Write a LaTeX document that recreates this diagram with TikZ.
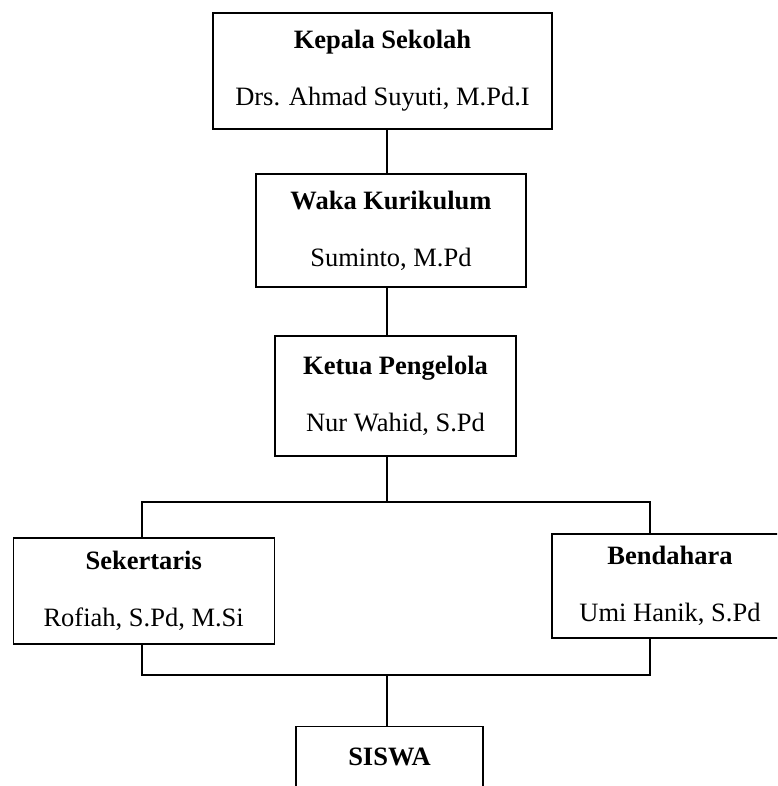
\documentclass[tikz,border=0pt]{standalone}
\usepackage{fontspec}
\setmainfont{Liberation Serif}
\usepackage{tikz}
\usetikzlibrary{positioning}

\begin{document}
\begin{tikzpicture}[x=1pt, y=-1pt, line width=1.3pt,
	box/.style={draw, rectangle, align=center, inner sep=0pt,
		font=\fontsize{26.5}{32}\selectfont}]

	\useasboundingbox (0,0) rectangle (777,786);
	\clip (0,0) rectangle (777,786);

	\node[box, minimum width=339, minimum height=116] (kepala) at (382.5,71)
		{\textbf{Kepala Sekolah}\\[25pt]Drs. Ahmad Suyuti, M.Pd.I};
	\node[box, minimum width=270, minimum height=113] (waka) at (391,230.5)
		{\textbf{Waka Kurikulum}\\[25pt]Suminto, M.Pd};
	\node[box, minimum width=241, minimum height=120] (ketua) at (395.5,396)
		{\textbf{Ketua Pengelola}\\[25pt]Nur Wahid, S.Pd};
	\node[box, minimum width=261, minimum height=106] (sekertaris) at (143.7,591)
		{\textbf{Sekertaris}\\[25pt]Rofiah, S.Pd, M.Si};
	\node[box, minimum width=236, minimum height=104] (bendahara) at (670,586)
		{\textbf{Bendahara}\\[25pt]Umi Hanik, S.Pd};
	\node[box, minimum width=187, minimum height=118, anchor=north] (siswa) at (389.5,726)
		{\textbf{SISWA}\\[25pt]\phantom{Siswa}};

	\coordinate (spine) at (387,0);
	\coordinate (busatas) at (387,502);
	\coordinate (busbawah) at (387,675);
	\coordinate (kiri) at (142,502);
	\coordinate (kanan) at (650,502);

	\draw (kepala.south -| spine) -- (waka.north -| spine);
	\draw (waka.south -| spine) -- (ketua.north -| spine);
	\draw (ketua.south -| spine) -- (busatas);
	\draw (kiri |- sekertaris.north) -- (kiri) -- (kanan) -- (kanan |- bendahara.north);
	\draw (kiri |- sekertaris.south) -- (kiri |- busbawah) -- (kanan |- busbawah) -- (kanan |- bendahara.south);
	\draw (busbawah) -- (siswa.north -| spine);

\end{tikzpicture}
\end{document}
